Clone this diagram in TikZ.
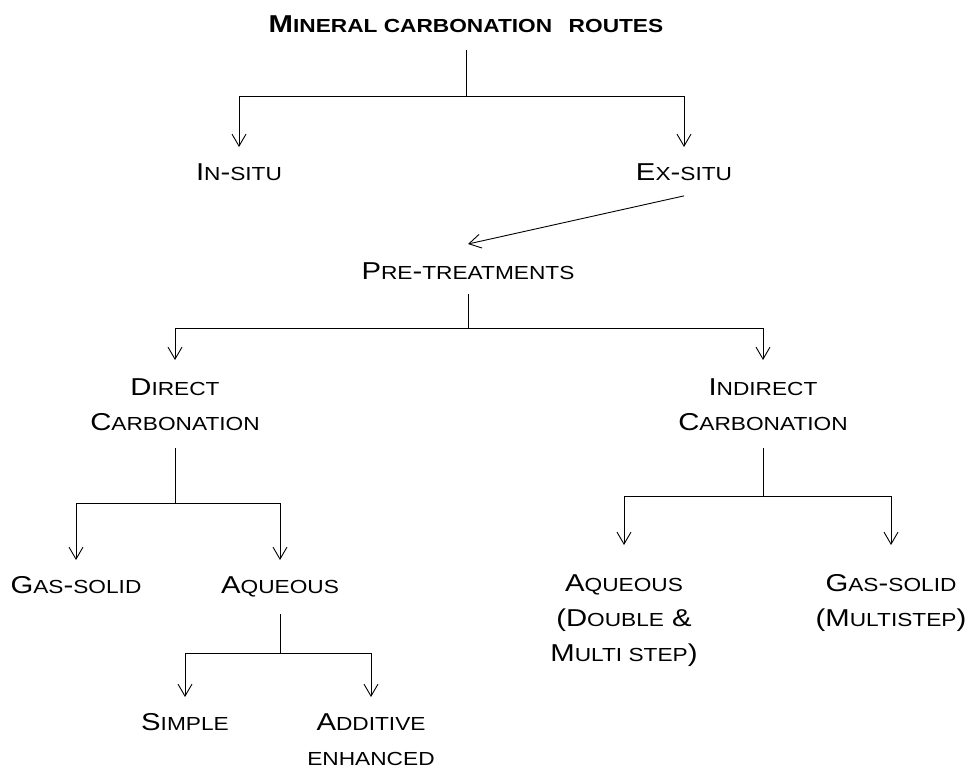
\documentclass[tikz,border=0pt]{standalone}
\usepackage{fontspec}
\setmainfont{Liberation Sans}
\usepackage{graphicx}
\usetikzlibrary{arrows.meta}

\newcommand{\smc}[1]{{\fontsize{18.9}{35}\selectfont #1}}
\newcommand{\wideln}[1]{\scalebox{1.2}[1]{#1}}

\begin{document}
\begin{tikzpicture}[x=1pt, y=-1pt, >={Straight Barb[length=12pt,width=14pt]},
    line width=0.9pt,
    lbl/.style={inner sep=0pt, anchor=north, align=center, font=\fontsize{24.4}{35}\selectfont},
    stem/.style={shorten <=17pt},
    arr/.style={->, shorten >=16pt}]
    \useasboundingbox (0,0) rectangle (965,769);

    \node[lbl, font=\fontsize{24.4}{35}\selectfont\bfseries] (title) at (466,15)
        {\wideln{M\smc{INERAL CARBONATION\hspace{0.45em} ROUTES}}};

    \node[lbl] (insitu) at (239,163) {\wideln{I\smc{N}-\smc{SITU}}};
    \node[lbl] (exsitu) at (684,163) {\wideln{E\smc{X}-\smc{SITU}}};

    \node[lbl] (pretreat) at (468,262) {\wideln{P\smc{RE}-\smc{TREATMENTS}}};

    \node[lbl] (direct) at (175,378) {\wideln{D\smc{IRECT}}\\ \wideln{C\smc{ARBONATION}}};
    \node[lbl] (indirect) at (763,378) {\wideln{I\smc{NDIRECT}}\\ \wideln{C\smc{ARBONATION}}};

    \node[lbl] (gassolid) at (76,576) {\wideln{G\smc{AS}-\smc{SOLID}}};
    \node[lbl] (aqueous) at (280,576) {\wideln{A\smc{QUEOUS}}};

    \node[lbl] (simple) at (185,713) {\wideln{S\smc{IMPLE}}};
    \node[lbl] (additive) at (371,713) {\wideln{A\smc{DDITIVE}}\\ \wideln{\smc{ENHANCED}}};

    \node[lbl] (aqmulti) at (624,574) {\wideln{A\smc{QUEOUS}}\\ \wideln{(D\smc{OUBLE} \&}\\ \wideln{M\smc{ULTI STEP})}};
    \node[lbl] (gasmulti) at (891,574) {\wideln{G\smc{AS}-\smc{SOLID}}\\ \wideln{(M\smc{ULTISTEP})}};

    \coordinate (j1) at (466,96);
    \coordinate (j2) at (468,328);
    \coordinate (j3) at (175,503);
    \coordinate (j4) at (280,653);
    \coordinate (j5) at (763,496);

    % top level
    \draw[stem] (title) -- (j1);
    \draw[arr] (j1) -| (insitu);
    \draw[arr] (j1) -| (exsitu);

    \draw[->] ([yshift=-15pt]exsitu.south) -- ([yshift=18pt]pretreat.north);

    % pre-treatments
    \draw[stem, shorten <=14pt] (pretreat) -- (j2);
    \draw[arr, shorten >=18pt] (j2) -| (direct);
    \draw[arr, shorten >=18pt] (j2) -| (indirect);

    % direct route
    \draw[stem] (direct) -- (j3);
    \draw[arr] (j3) -| (gassolid);
    \draw[arr] (j3) -| (aqueous);

    \draw[stem] (aqueous) -- (j4);
    \draw[arr] (j4) -| (simple);
    \draw[arr] (j4) -| (additive);

    % indirect route
    \draw[stem] (indirect) -- (j5);
    \draw[arr, shorten >=29pt] (j5) -| (aqmulti);
    \draw[arr, shorten >=29pt] (j5) -| (gasmulti);
\end{tikzpicture}
\end{document}
